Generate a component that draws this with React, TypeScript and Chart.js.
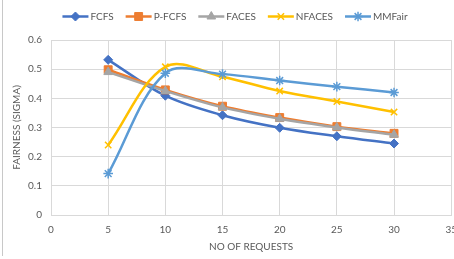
import React, { useEffect, useRef } from 'react';
import { Chart, registerables } from 'chart.js';
import { drawPoint } from 'chart.js/helpers';

Chart.register(...registerables);

const requests = [5, 10, 15, 20, 25, 30];
const seriesNames = ['FCFS', 'P-FCFS', 'FACES', 'NFACES', 'MMFair'];
const fcfs = [0.532, 0.409, 0.342, 0.299, 0.27, 0.245];
const pfcfs = [0.498, 0.429, 0.373, 0.334, 0.303, 0.28];
const faces = [0.49, 0.425, 0.369, 0.33, 0.3, 0.275];
const nfaces = [0.24, 0.508, 0.474, 0.425, 0.389, 0.353];
const mmfair = [0.142, 0.486, 0.483, 0.461, 0.44, 0.42];
const seriesValues = [fcfs, pfcfs, faces, nfaces, mmfair];

const xMin = 0;
const xMax = 35;
const xStep = 5;
const yMin = 0;
const yMax = 0.6;
const yStep = 0.1;
const xTitle = 'NO OF REQUESTS';
const yTitle = 'FAIRNESS (SIGMA)';

const colors = ['#4472C4', '#ED7D31', '#A5A5A5', '#FFC000', '#5B9BD5'];
const markers = ['rectRot', 'rect', 'triangle', 'crossRot', 'star'];
const markerRadius = [4.5, 5.6, 5, 4.5, 4.8];
const markerBorder = [1, 1, 1, 1.5, 1.5];

const FONT = 'Lato, "Liberation Sans", sans-serif';
const TEXT = '#595959';
const GRID = '#D9D9D9';

const legendPlugin = {
  id: 'excelLegend',
  afterDraw(chart: any) {
    const ctx = chart.ctx as CanvasRenderingContext2D;
    ctx.save();
    ctx.font = `10px ${FONT}`;
    const lineLen = 26;
    const gap = 2;
    const spacing = 12;
    const widths = seriesNames.map((n) => lineLen + gap + ctx.measureText(n).width);
    const total = widths.reduce((a, b) => a + b, 0) + spacing * (seriesNames.length - 1);
    let x = 235 - total / 2;
    const y = 16.5;
    seriesNames.forEach((name, i) => {
      ctx.strokeStyle = colors[i];
      ctx.fillStyle = colors[i];
      ctx.lineWidth = 2.5;
      ctx.beginPath();
      ctx.moveTo(x, y);
      ctx.lineTo(x + lineLen, y);
      ctx.stroke();
      ctx.lineWidth = markerBorder[i];
      drawPoint(ctx, { pointStyle: markers[i] as any, rotation: 0, radius: markerRadius[i], borderWidth: markerBorder[i] } as any, x + lineLen / 2, y);
      ctx.fillStyle = TEXT;
      ctx.textBaseline = 'middle';
      ctx.textAlign = 'left';
      ctx.fillText(name, x + lineLen + gap, y);
      x += widths[i] + spacing;
    });
    ctx.restore();
  },
};

export default function App() {
  const canvasRef = useRef<HTMLCanvasElement | null>(null);

  useEffect(() => {
    if (!canvasRef.current) return;
    const datasets = seriesNames.map((name, i) => ({
      label: name,
      data: requests.map((r, j) => ({ x: r, y: seriesValues[i][j] })),
      borderColor: colors[i],
      backgroundColor: colors[i],
      borderWidth: 2.5,
      pointStyle: markers[i] as any,
      pointRadius: markerRadius[i],
      pointHoverRadius: markerRadius[i],
      pointBorderWidth: markerBorder[i],
      pointBackgroundColor: colors[i],
      pointBorderColor: colors[i],
      tension: 0.35,
      fill: false,
      order: seriesNames.length - 1 - i,
    }));
    const chart = new Chart(canvasRef.current, {
      type: 'line',
      data: { datasets },
      plugins: [legendPlugin],
      options: {
        animation: false,
        responsive: false,
        maintainAspectRatio: false,
        layout: { padding: { top: 40, right: 13, left: 0, bottom: 0 } },
        plugins: {
          legend: { display: false },
          tooltip: { enabled: false },
        },
        scales: {
          x: {
            type: 'linear',
            min: xMin,
            max: xMax,
            afterFit: (scale: any) => { scale.height = 44; },
            ticks: {
              stepSize: xStep,
              color: TEXT,
              font: { family: FONT, size: 10 },
              padding: 9,
              maxRotation: 0,
              callback: (v: any) => String(v),
            },
            grid: { color: GRID, lineWidth: 1, drawTicks: false },
            border: { color: GRID },
            title: {
              display: true,
              text: xTitle,
              color: TEXT,
              font: { family: FONT, size: 10 },
              padding: { top: 0, bottom: 6 },
            },
          },
          y: {
            type: 'linear',
            min: yMin,
            max: yMax,
            afterFit: (scale: any) => { scale.width = 51; },
            ticks: {
              stepSize: yStep,
              color: TEXT,
              font: { family: FONT, size: 10 },
              padding: 9,
              callback: (v: any) => String(Math.round(Number(v) * 10) / 10),
            },
            grid: { color: GRID, lineWidth: 1, drawTicks: false },
            border: { color: GRID },
            title: {
              display: true,
              text: yTitle,
              color: TEXT,
              font: { family: FONT, size: 10 },
              padding: { top: 11, bottom: 0 },
            },
          },
        },
      } as any,
    });
    return () => chart.destroy();
  }, []);

  return (
    <div style={{ position: 'absolute', left: 0, top: 0, width: 454, height: 259, overflow: 'hidden', background: '#fff' }}>
      <canvas ref={canvasRef} width={466} height={259} style={{ position: 'absolute', left: 0, top: 0, width: 466, height: 259 }} />
      <div style={{ position: 'absolute', left: 2, top: 0, width: 1, height: 256, background: '#C8C8C8' }} />
    </div>
  );
}
